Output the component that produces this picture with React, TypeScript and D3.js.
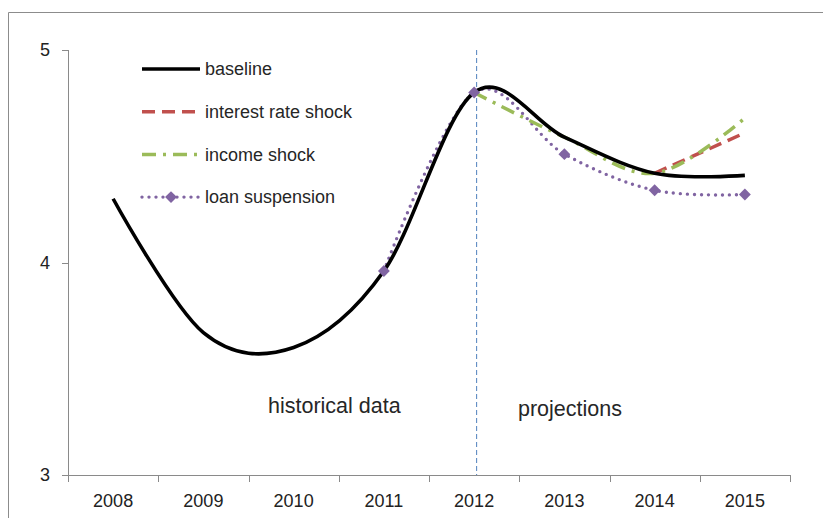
import { useEffect, useRef } from 'react'
import * as d3 from 'd3'

// categories and series (null = no value that year)
const years = ['2008', '2009', '2010', '2011', '2012', '2013', '2014', '2015']
const baseline = [4.3, 3.67, 3.6, 3.96, 4.8, 4.59, 4.42, 4.41]
const interestRateShock = [null, null, null, null, null, null, 4.42, 4.61]
const incomeShock = [null, null, null, null, 4.8, 4.59, 4.42, 4.68]
const loanSuspension = [null, null, null, 3.96, 4.8, 4.51, 4.34, 4.32]
const yTicks = [3, 4, 5]
const splitYear = '2012'

export default function App() {
  const svgRef = useRef<SVGSVGElement>(null)

  useEffect(() => {
    if (!svgRef.current) return
    const svg = d3.select(svgRef.current)
    svg.selectAll('*').remove()

    const width = 823
    const height = 518
    const margin = { top: 50, right: 33, bottom: 43, left: 68 }
    const font = "'Liberation Sans', Arial, sans-serif"

    svg.attr('width', width).attr('height', height)

    // chart frame (only top/left edges fall inside the picture)
    svg.append('path')
      .attr('d', `M8.5,${height}V12.5H${width}`)
      .style('fill', 'none')
      .style('stroke', '#8c8c8c')
      .style('stroke-width', 1)

    const x = d3.scaleBand()
      .domain(years)
      .range([margin.left, width - margin.right])

    const y = d3.scaleLinear()
      .domain([3, 5])
      .range([height - margin.bottom, margin.top])

    const cx = (i: number) => (x(years[i]) as number) + x.bandwidth() / 2

    // axes
    const axisColor = '#8a8a8a'
    const bottom = y(3)
    svg.append('line')
      .attr('x1', margin.left).attr('x2', width - margin.right)
      .attr('y1', bottom + 0.5).attr('y2', bottom + 0.5)
      .style('stroke', axisColor)
    svg.append('line')
      .attr('x1', margin.left + 0.5).attr('x2', margin.left + 0.5)
      .attr('y1', y(5)).attr('y2', bottom)
      .style('stroke', axisColor)

    // x ticks at band boundaries
    const bounds = years.map(d => x(d) as number).concat([width - margin.right])
    svg.selectAll('.xtick')
      .data(bounds)
      .enter().append('line')
      .attr('class', 'xtick')
      .attr('x1', d => Math.round(d) + 0.5).attr('x2', d => Math.round(d) + 0.5)
      .attr('y1', bottom).attr('y2', bottom + 7)
      .style('stroke', axisColor)

    svg.selectAll('.xlabel')
      .data(years)
      .enter().append('text')
      .attr('class', 'xlabel')
      .attr('x', (d, i) => cx(i))
      .attr('y', bottom + 32)
      .attr('text-anchor', 'middle')
      .style('font-family', font)
      .style('font-size', '18px')
      .style('fill', '#222')
      .text(d => d)

    svg.selectAll('.ytick')
      .data(yTicks)
      .enter().append('line')
      .attr('class', 'ytick')
      .attr('x1', margin.left - 6).attr('x2', margin.left)
      .attr('y1', d => Math.round(y(d)) + 0.5).attr('y2', d => Math.round(y(d)) + 0.5)
      .style('stroke', axisColor)

    svg.selectAll('.ylabel')
      .data(yTicks)
      .enter().append('text')
      .attr('class', 'ylabel')
      .attr('x', margin.left - 18)
      .attr('y', d => y(d))
      .attr('dy', '0.35em')
      .attr('text-anchor', 'end')
      .style('font-family', font)
      .style('font-size', '18px')
      .style('fill', '#222')
      .text(d => d)

    // split between historical data and projections
    const splitX = cx(years.indexOf(splitYear)) + 2.5
    svg.append('line')
      .attr('x1', splitX).attr('x2', splitX)
      .attr('y1', y(5)).attr('y2', bottom)
      .style('stroke', '#4f81bd')
      .style('stroke-width', 1)
      .style('stroke-dasharray', '5,3')

    svg.append('text')
      .attr('x', 268).attr('y', 413)
      .style('font-family', font)
      .style('font-size', '21.5px')
      .style('fill', '#262626')
      .text('historical data')

    svg.append('text')
      .attr('x', 518).attr('y', 416)
      .style('font-family', font)
      .style('font-size', '21.5px')
      .style('fill', '#262626')
      .text('projections')

    // series
    const line = d3.line<number | null>()
      .defined(d => d !== null)
      .x((d, i) => cx(i))
      .y(d => y(d as number))
      .curve(d3.curveCardinal.tension(0))

    const series = [
      { label: 'baseline', values: baseline, color: '#000000', width: 3.6, dash: 'none', cap: 'butt', marker: false },
      { label: 'interest rate shock', values: interestRateShock, color: '#c0504d', width: 3.5, dash: '13,7', cap: 'butt', marker: false },
      { label: 'income shock', values: incomeShock, color: '#9bbb59', width: 3.5, dash: '14,7,3,7', cap: 'butt', marker: false },
      { label: 'loan suspension', values: loanSuspension, color: '#8064a2', width: 3.4, dash: '0,7', cap: 'round', marker: true },
    ]

    // loan suspension line sits under the others, baseline on top
    const drawOrder = [series[3], series[1], series[2], series[0]]
    drawOrder.forEach(s => {
      svg.append('path')
        .datum(s.values)
        .attr('d', line)
        .style('fill', 'none')
        .style('stroke', s.color)
        .style('stroke-width', s.width)
        .style('stroke-dasharray', s.dash)
        .style('stroke-linecap', s.cap)
    })

    const diamond = d3.symbol().type(d3.symbolDiamond2).size(90)
    const loanPts = loanSuspension
      .map((v, i) => ({ v, i }))
      .filter(d => d.v !== null)
    svg.selectAll('.marker')
      .data(loanPts)
      .enter().append('path')
      .attr('class', 'marker')
      .attr('d', diamond)
      .attr('transform', d => `translate(${cx(d.i)},${y(d.v as number)})`)
      .style('fill', '#8064a2')

    // legend
    const legend = svg.append('g').attr('transform', 'translate(142, 69)')
    series.forEach((s, i) => {
      const row = legend.append('g').attr('transform', `translate(0, ${i * 42.7})`)
      row.append('line')
        .attr('x1', 0).attr('x2', 58)
        .attr('y1', 0).attr('y2', 0)
        .style('stroke', s.color)
        .style('stroke-width', s.width)
        .style('stroke-dasharray', s.dash)
        .style('stroke-linecap', s.cap)
      if (s.marker) {
        row.append('path')
          .attr('d', diamond)
          .attr('transform', 'translate(29,0)')
          .style('fill', s.color)
      }
      row.append('text')
        .attr('x', 63)
        .attr('y', 0)
        .attr('dy', '0.35em')
        .style('font-family', font)
        .style('font-size', '18px')
        .style('fill', '#262626')
        .text(s.label)
    })
  }, [])

  return (
    <svg ref={svgRef} style={{ position: 'absolute', left: 0, top: 0, background: '#fff' }}></svg>
  )
}
